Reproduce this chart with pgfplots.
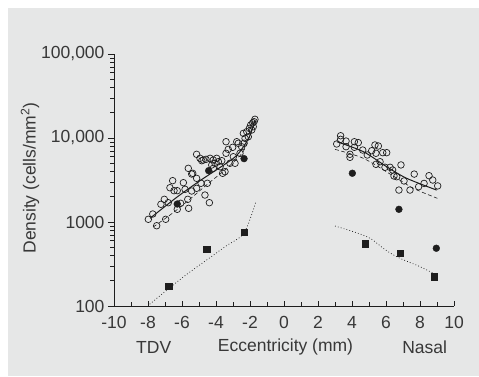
\documentclass[border=0pt]{standalone}
\usepackage{fontspec}
\setmainfont{Liberation Sans}
\usepackage{pgfplots}
\pgfplotsset{compat=1.18}
\definecolor{bg}{HTML}{E6E7E7}
\definecolor{txt}{HTML}{383838}
\definecolor{ink}{HTML}{1E1E1E}
\begin{document}
\begin{tikzpicture}[x=1pt,y=1pt]
\useasboundingbox (0,0) rectangle (479,376);
\fill[white] (0,0) rectangle (479,376);
\fill[bg] (8,0) rectangle (479,368);
% x axis (ticks inside)
\begin{axis}[
  at={(114pt,70pt)}, anchor=south west, scale only axis, width=340pt, height=252pt,
  xmin=-10, xmax=10, ymode=log, ymin=100, ymax=100000,
  ticklabel style={font=\fontsize{17.5}{20}\selectfont, text=txt},
  axis line style={line width=0.8pt, color=ink},
  tick style={line width=0.6pt, color=ink},
  clip=false,
  axis x line*=bottom, axis y line=none, tick align=inside,
  xtick={-10,-8,-6,-4,-2,0,2,4,6,8,10},
  xticklabels={-10,-8,-6,-4,-2,0,2,4,6,8,10},
  minor xtick={-9,-7,-5,-3,-1,1,3,5,7,9},
  major tick length=5pt, minor tick length=4pt,
  xticklabel style={yshift=-7pt}]
\addplot[draw=none] coordinates {(0,1000)};
\end{axis}
% y axis and data (ticks outside)
\begin{axis}[
  at={(114pt,70pt)}, anchor=south west, scale only axis, width=340pt, height=252pt,
  xmin=-10, xmax=10, ymode=log, ymin=100, ymax=100000,
  ticklabel style={font=\fontsize{17.5}{20}\selectfont, text=txt},
  axis line style={line width=0.8pt, color=ink},
  tick style={line width=0.6pt, color=ink},
  clip=false,
  axis y line*=left, axis x line=none, tick align=outside,
  ytick={100,1000,10000,100000},
  yticklabels={100,1000,{10,000},{100,000}},
  minor ytick={200,300,400,500,600,700,800,900,2000,3000,4000,5000,6000,7000,8000,9000,20000,30000,40000,50000,60000,70000,80000,90000},
  major tick length=6pt, minor tick length=4pt]
% lines
\addplot[ink, line width=1pt, smooth, no markers] coordinates {
 (-7.88,1107) (-6.31,1968) (-4.94,3105) (-2.98,5730) (-2.39,7870) (-1.99,10860) (-1.71,16380)};
\addplot[ink, line width=0.6pt, dash pattern=on 4pt off 2.5pt, smooth, no markers] coordinates {
 (-7.7,870) (-6.5,1300) (-5.5,1900) (-4.45,2880) (-3.4,4300) (-2.4,6900) (-1.8,14000)};
\addplot[ink, line width=0.7pt, dash pattern=on 0.8pt off 2.2pt, smooth, no markers] coordinates {
 (-7.9,105) (-6.8,160) (-5.7,240) (-4.55,353) (-3.4,520) (-2.35,740) (-1.65,1750)};
\addplot[ink, line width=1pt, smooth, no markers] coordinates {
 (3.1,9040) (4.67,6870) (6.04,4550) (7.22,3310) (8.98,2400)};
\addplot[ink, line width=0.6pt, dash pattern=on 4pt off 2.5pt, smooth, no markers] coordinates {
 (3.0,7330) (4.67,5730) (6.33,3630) (7.61,2520) (9.02,1915)};
\addplot[ink, line width=0.7pt, dash pattern=on 0.8pt off 2.2pt, smooth, no markers] coordinates {
 (3.0,896) (4.08,767) (5.06,640) (6.04,455) (6.82,370) (8.0,294) (8.98,234)};
% open circles
\addplot[only marks, mark=o, mark size=3.3pt, mark options={ink, line width=0.7pt}] coordinates {
 (-7.98,1077) (-7.72,1245) (-7.49,903) (-7.24,1625) (-7.04,1862) (-6.96,1077) (-6.81,1698)
 (-6.71,2559) (-6.55,3105) (-6.47,2361) (-6.28,2361) (-6.28,1416) (-6.08,1671) (-5.92,2938)
 (-5.82,2449) (-5.66,1862) (-5.61,1455) (-5.63,4355) (-5.43,3724) (-5.37,3800) (-5.43,2339)
 (-5.14,3311) (-5.14,2518) (-5.14,6397) (-4.94,5730) (-4.88,2891) (-4.84,5370) (-4.75,5470)
 (-4.65,2094) (-4.59,5570) (-4.51,2891) (-4.39,1698) (-4.35,5730) (-4.25,4775) (-4.16,5470)
 (-4.16,4355) (-4.06,5000) (-3.96,5730) (-3.86,5224) (-3.76,4550) (-3.66,5370) (-3.61,3800)
 (-3.47,3972) (-3.41,6577) (-3.41,9036) (-3.28,7328) (-3.18,5000) (-3.02,7745) (-2.98,5986)
 (-2.88,5000) (-2.78,9036) (-2.69,8650) (-2.59,6577) (-2.49,7870) (-2.39,11370) (-2.35,8650)
 (-2.29,9910) (-2.19,11880) (-2.10,10350) (-2.04,13030) (-1.96,14290) (-1.90,12450)
 (-1.84,15200) (-1.76,15630) (-1.71,16700) (-1.81,13640)
 (3.1,8490) (3.33,10640) (3.33,9640) (3.65,9200) (3.65,7880) (3.88,6400) (3.88,5890)
 (4.14,9030) (4.14,7750) (4.37,8810) (4.63,7190) (4.9,6280) (5.16,7060) (5.35,8260)
 (5.55,8030) (5.41,6580) (5.81,6690) (6.04,6690) (5.65,5220) (5.41,4860) (5.94,4480)
 (6.24,4480) (6.39,4160) (6.47,3530) (6.63,3460) (6.88,4780) (7.06,3080) (6.76,2400)
 (7.41,2400) (7.66,3720) (7.92,2630) (8.24,2880) (8.53,3560) (8.75,3160) (9.04,2690)};
% filled circles
\addplot[only marks, mark=*, mark size=3.4pt, mark options={ink, fill=ink}] coordinates {
 (-6.28,1638) (-4.43,4085) (-2.35,5680) (4.02,3805) (6.76,1416) (8.96,487)};
% filled squares
\addplot[only marks, mark=square*, mark size=3.1pt, mark options={ink, fill=ink}] coordinates {
 (-6.78,173) (-4.55,473) (-2.35,753) (4.76,552) (6.82,424) (8.82,223)};
\end{axis}
\begin{scope}[every node/.style={font=\fontsize{17.5}{20}\selectfont, text=txt}]
\node at (153.7,29) {TDV};
\node at (285.5,29) {Eccentricity (mm)};
\node at (424.7,29) {Nasal};
\node[rotate=90] at (30,198) {Density (cells/mm\textsuperscript{2})};
\end{scope}
\end{tikzpicture}
\end{document}
